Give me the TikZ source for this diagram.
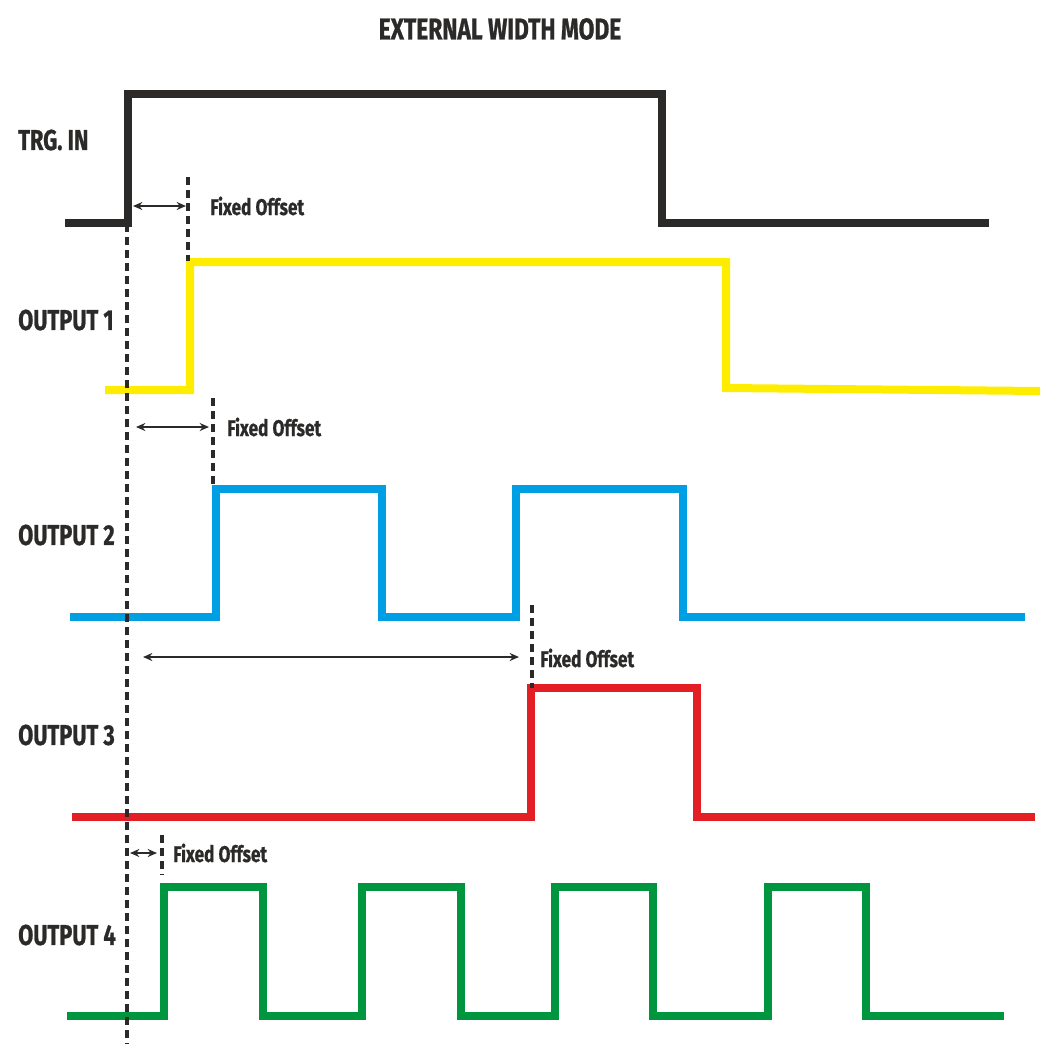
\documentclass[tikz,border=0pt]{standalone}
\usepackage{fontspec}
\setmainfont{Fira Sans}[FakeStretch=0.76, BoldFeatures={FakeBold=0.8}]
\usetikzlibrary{arrows.meta}
\definecolor{sigblack}{HTML}{2B2A29}
\definecolor{sigyellow}{HTML}{FFED00}
\definecolor{sigblue}{HTML}{009FE3}
\definecolor{sigred}{HTML}{E31E24}
\definecolor{siggreen}{HTML}{009640}

\begin{document}
\begin{tikzpicture}[x=0.75pt, y=-0.75pt,
  signal/.style = {line width=6pt, line join=miter},
  refline/.style = {sigblack, line width=2.3pt, dash pattern=on 6pt off 3.75pt},
  offsetarrow/.style = {sigblack, line width=1.3pt,
    {Stealth[length=7pt,width=6pt]}-{Stealth[length=7pt,width=6pt]}},
  siglabel/.style = {anchor=west, inner sep=0pt, text=sigblack,
    font=\bfseries\fontsize{21.5}{21.5}\selectfont},
  offsettext/.style = {anchor=west, inner sep=0pt, text=sigblack,
    font=\bfseries\fontsize{17}{17}\selectfont}]

%%% BoundingBox wie im Bild
\useasboundingbox (0,0) rectangle (1059,1061);

%%% Titel
\node[inner sep=0pt, text=sigblack, font=\bfseries\fontsize{22.5}{22.5}\selectfont]
  (title) at (500,29) {EXTERNAL WIDTH MODE};

%%% Beschriftung der Signale
\node[siglabel] (trg)  at (18,140) {TRG. IN};
\node[siglabel] (out1) at (18,320) {OUTPUT 1};
\node[siglabel] (out2) at (18,535) {OUTPUT 2};
\node[siglabel] (out3) at (18,735) {OUTPUT 3};
\node[siglabel] (out4) at (18,935) {OUTPUT 4};

%%% Signalverlaeufe
\draw[signal, sigblack]  (65,223) -| (128,94) -| (662,223) -- (989,223);
\draw[signal, sigyellow] (105,390) -| (190,262) -| (726,388) -- (1040,391);
\draw[signal, sigblue]   (70,617) -| (216,489) -| (382,617) -| (516,489)
  -| (683,617) -- (1025,617);
\draw[signal, sigred]    (72,817) -| (531,688) -| (697,817) -- (1035,817);
\draw[signal, siggreen]  (67,1016) -| (164,887) -| (263,1016) -| (362,887)
  -| (461,1016) -| (555,887) -| (653,1016) -| (768,887) -| (866,1016)
  -- (1004,1016);

%%% Bezugslinien (gestrichelt)
\coordinate (R0) at (127,224);  \coordinate (R0e) at (127,1044);
\coordinate (R1) at (188,177);  \coordinate (R1e) at (188,261);
\coordinate (R2) at (213,398);  \coordinate (R2e) at (213,487);
\coordinate (R3) at (532,605);  \coordinate (R3e) at (532,688);
\coordinate (R4) at (162,835);  \coordinate (R4e) at (162,875);
\foreach \i in {0,...,4}
  \draw[refline] (R\i) -- (R\i e);

%%% Offset-Pfeile
\coordinate (A1) at (133,206);  \coordinate (B1) at (186,206);
\coordinate (A2) at (136,427);  \coordinate (B2) at (209,427);
\coordinate (A3) at (143,657);  \coordinate (B3) at (519,657);
\coordinate (A4) at (130,853);  \coordinate (B4) at (157,853);
\foreach \i in {1,...,4}
  \draw[offsetarrow] (A\i) -- (B\i);

%%% Beschriftung der Offsets
\node[offsettext] (fo1) at (210,206) {Fixed Offset};
\node[offsettext] (fo2) at (227,427) {Fixed Offset};
\node[offsettext] (fo3) at (540,658) {Fixed Offset};
\node[offsettext] (fo4) at (173,853) {Fixed Offset};
\end{tikzpicture}
\end{document}
